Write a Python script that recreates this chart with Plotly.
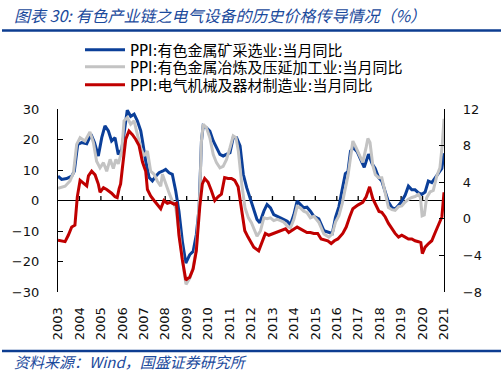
import plotly.graph_objects as go

# ---------------- data ----------------
years = list(range(2003, 2022))
year_labels = [str(y) for y in years]

left_ticks = [-30, -20, -10, 0, 10, 20, 30]
right_ticks = [-8, -4, 0, 4, 8, 12]

mining_name = "PPI:有色金属矿采选业:当月同比"
mining_t = [2003.00, 2003.17, 2003.40, 2003.64, 2003.76, 2003.92, 2004.10, 2004.34, 2004.54, 2004.70,
            2004.88, 2005.04, 2005.19, 2005.35, 2005.50, 2005.66, 2005.81, 2005.97, 2006.03, 2006.16,
            2006.23, 2006.39, 2006.55, 2006.70, 2006.86, 2006.94, 2007.09, 2007.25, 2007.40, 2007.56,
            2007.71, 2007.87, 2008.02, 2008.18, 2008.33, 2008.49, 2008.64, 2008.80, 2008.96, 2009.14,
            2009.30, 2009.45, 2009.58, 2009.69, 2009.77, 2009.92, 2010.08, 2010.24, 2010.39, 2010.55,
            2010.70, 2010.86, 2011.02, 2011.17, 2011.33, 2011.49, 2011.64, 2011.80, 2011.96, 2012.12,
            2012.28, 2012.41, 2012.60, 2012.75, 2012.91, 2013.06, 2013.22, 2013.38, 2013.53, 2013.69,
            2013.84, 2014.00, 2014.15, 2014.30, 2014.46, 2014.61, 2014.77, 2014.93, 2015.16, 2015.40,
            2015.63, 2015.79, 2015.94, 2016.10, 2016.25, 2016.40, 2016.52, 2016.64, 2016.78, 2016.95,
            2017.11, 2017.28, 2017.48, 2017.65, 2017.79, 2017.95, 2018.10, 2018.26, 2018.41, 2018.57,
            2018.72, 2018.88, 2019.03, 2019.19, 2019.34, 2019.50, 2019.65, 2019.81, 2019.96, 2020.12,
            2020.27, 2020.43, 2020.58, 2020.74, 2020.90, 2021.00]
mining_v = [8.0, 6.9, 7.2, 8.0, 9.6, 18.4, 19.0, 18.6, 21.7, 19.0,
            14.6, 20.6, 24.5, 22.8, 19.5, 20.6, 15.1, 16.8, 19.5, 27.2,
            29.6, 27.6, 28.3, 26.1, 22.8, 19.5, 12.9, 7.5, 6.4, 8.0,
            9.1, 9.6, 10.2, 9.1, 8.6, 3.1, -3.5, -13.4, -20.5, -17.8,
            -16.7, -11.2, -2.4, 19.5, 24.5, 23.9, 22.8, 19.5, 17.3, 15.1,
            14.6, 15.1, 15.7, 20.6, 20.6, 17.9, 8.6, 4.2, 0.9, -2.5,
            -6.2, -7.3, -3.5, -1.3, -2.4, -4.6, -5.2, -5.7, -6.2, -6.8,
            -7.9, -4.6, -0.2, -1.3, -2.4, -2.2, -3.5, -5.2, -6.0, -9.9,
            -10.4, -10.8, -5.5, -2.0, 3.5, 8.8, 9.5, 16.2, 17.3, 16.0,
            13.5, 10.9, 15.2, 12.0, 10.5, 7.5, 6.4, 2.5, -0.5, -2.3,
            -2.8, -1.6, -0.2, 1.8, 4.7, 3.5, 3.5, 2.5, 2.0, 2.8,
            6.4, 5.9, 7.5, 9.0, 10.5, 15.5]

smelting_name = "PPI:有色金属冶炼及压延加工业:当月同比"
smelting_t = [2003.00, 2003.33, 2003.56, 2003.72, 2003.87, 2004.03, 2004.26, 2004.49, 2004.65, 2004.80,
              2004.96, 2005.12, 2005.27, 2005.43, 2005.58, 2005.70, 2005.81, 2005.97, 2006.08, 2006.23,
              2006.39, 2006.55, 2006.70, 2006.86, 2007.01, 2007.17, 2007.32, 2007.48, 2007.63, 2007.79,
              2007.87, 2008.02, 2008.18, 2008.33, 2008.49, 2008.64, 2008.80, 2008.90, 2008.97, 2009.14,
              2009.30, 2009.45, 2009.61, 2009.69, 2009.77, 2009.92, 2010.08, 2010.24, 2010.39, 2010.55,
              2010.70, 2010.86, 2011.02, 2011.17, 2011.30, 2011.41, 2011.57, 2011.72, 2011.88, 2012.02,
              2012.15, 2012.28, 2012.44, 2012.60, 2012.75, 2012.91, 2013.06, 2013.22, 2013.38, 2013.53,
              2013.69, 2013.84, 2014.00, 2014.15, 2014.30, 2014.46, 2014.61, 2014.77, 2014.93, 2015.16,
              2015.40, 2015.63, 2015.79, 2015.94, 2016.10, 2016.25, 2016.40, 2016.52, 2016.64, 2016.75,
              2016.90, 2017.06, 2017.21, 2017.37, 2017.45, 2017.55, 2017.68, 2017.80, 2017.95, 2018.10,
              2018.26, 2018.41, 2018.57, 2018.72, 2018.88, 2019.03, 2019.19, 2019.34, 2019.50, 2019.65,
              2019.81, 2019.90, 2019.98, 2020.08, 2020.19, 2020.35, 2020.50, 2020.66, 2020.81, 2020.92,
              2021.00]
smelting_v = [4.0, 4.7, 6.4, 9.1, 18.4, 20.6, 19.5, 22.5, 19.0, 12.9,
              10.7, 12.4, 9.6, 13.5, 10.5, 13.5, 12.0, 16.0, 26.1, 27.2,
              25.0, 26.1, 21.7, 17.3, 14.6, 16.2, 9.6, 8.6, 6.4, 4.7,
              8.6, 5.3, 2.5, -0.2, -2.4, -10.0, -20.0, -24.5, -27.5, -25.5,
              -22.0, -15.6, 2.0, 19.5, 25.0, 23.9, 20.6, 15.1, 12.4, 10.7,
              11.2, 13.5, 17.3, 21.2, 20.6, 16.2, 5.3, -2.4, -5.7, -7.3,
              -9.5, -11.7, -10.0, -5.7, -6.0, -5.7, -6.6, -6.2, -6.6, -7.1,
              -8.4, -9.0, -6.2, -1.9, -2.4, -3.5, -4.0, -5.7, -5.2, -7.1,
              -11.0, -12.0, -11.0, -7.1, -5.0, -1.1, 4.0, 8.0, 14.0, 19.5,
              17.3, 14.6, 12.5, 17.5, 20.3, 19.0, 11.5, 8.5, 7.5, 7.5,
              2.5, -2.3, -3.0, -3.2, -2.0, -1.8, -0.5, 0.4, 1.0, 1.3,
              2.0, 1.0, -5.0, -4.7, 0.9, 2.8, 3.3, 8.0, 10.7, 18.4,
              26.8]

electric_name = "PPI:电气机械及器材制造业:当月同比"
electric_t = [2003.00, 2003.33, 2003.48, 2003.64, 2003.79, 2003.90, 2004.03, 2004.18, 2004.34, 2004.42,
              2004.57, 2004.73, 2004.88, 2004.96, 2005.12, 2005.27, 2005.50, 2005.66, 2005.76, 2005.85,
              2005.92, 2006.00, 2006.16, 2006.31, 2006.47, 2006.62, 2006.78, 2006.94, 2007.01, 2007.09,
              2007.17, 2007.32, 2007.48, 2007.63, 2007.79, 2007.94, 2008.10, 2008.25, 2008.41, 2008.52,
              2008.64, 2008.80, 2008.96, 2009.06, 2009.14, 2009.30, 2009.45, 2009.61, 2009.73, 2009.84,
              2010.00, 2010.15, 2010.31, 2010.46, 2010.62, 2010.77, 2010.93, 2011.09, 2011.24, 2011.40,
              2011.55, 2011.71, 2011.86, 2011.97, 2012.13, 2012.36, 2012.52, 2012.67, 2012.83, 2013.06,
              2013.22, 2013.37, 2013.61, 2013.76, 2014.00, 2014.15, 2014.30, 2014.46, 2014.61, 2014.77,
              2014.93, 2015.11, 2015.27, 2015.58, 2015.74, 2015.89, 2016.05, 2016.28, 2016.44, 2016.60,
              2016.75, 2016.98, 2017.21, 2017.37, 2017.53, 2017.68, 2017.84, 2017.97, 2018.10, 2018.26,
              2018.41, 2018.57, 2018.72, 2018.88, 2019.03, 2019.19, 2019.34, 2019.50, 2019.65, 2019.81,
              2019.92, 2019.99, 2020.12, 2020.28, 2020.43, 2020.59, 2020.74, 2020.90, 2021.00]
electric_v = [-2.35, -2.5, -1.8, -0.9, -0.7, 2.4, 4.2, 3.9, 3.6, 4.7,
              5.2, 4.8, 3.8, 2.9, 3.4, 3.2, 2.8, 2.4, 2.3, 3.3,
              3.8, 5.5, 8.7, 9.6, 9.2, 8.7, 8.0, 6.2, 5.6, 5.2,
              3.2, 2.5, 2.0, 1.6, 1.1, 2.0, 1.7, 1.8, 1.6, 1.7,
              -1.8, -4.5, -6.7, -6.5, -6.4, -5.5, -3.5, 1.3, 3.8, 4.4,
              4.0, 3.1, 2.0, 2.4, 2.7, 4.5, 4.4, 4.4, 4.2, 3.5,
              0.9, -1.3, -2.0, -2.5, -3.1, -3.5, -2.4, -1.6, -1.8, -1.6,
              -1.5, -1.3, -1.1, -1.5, -1.1, -0.9, -1.1, -1.3, -1.5, -1.5,
              -1.6, -1.6, -2.2, -2.4, -2.7, -2.4, -2.2, -1.6, -0.9, 0.2,
              1.1, 1.5, 1.8, 2.4, 3.5, 2.2, 1.4, 0.8, 0.7, 0.2,
              -0.5, -1.1, -1.6, -2.0, -1.8, -2.0, -2.2, -2.2, -2.4, -2.5,
              -2.6, -3.8, -3.1, -2.7, -2.4, -1.5, -0.7, 0.2, 2.9]

title_text = "图表 30: 有色产业链之电气设备的历史价格传导情况（%）"
source_text = "资料来源：Wind，国盛证券研究所"

# ---------------- layout helpers (pixel -> paper) ----------------
W, H = 504, 378
ML, MR, MT, MB = 58, 60, 109, 86
PW, PH = W - ML - MR, H - MT - MB
Y_RANGE = [-30, 30]
Y2_RANGE = [-8, 12]


def pxx(px):
    return (px - ML) / PW


def pxy(py):
    return (H - MB - py) / PH


BLUE = "#0B3F99"
GRAY = "#C3C3C3"
RED = "#C00000"
TXT_BLUE = "#1B4A9C"
RULE_BLUE = "#0D3D91"
TICK_FONT = dict(family="DejaVu Sans", size=13, color="#111111")
LEG_FONT = dict(family="DejaVu Sans, Noto Sans CJK SC", size=15, color="#000000")

fig = go.Figure()
fig.add_trace(go.Scatter(x=mining_t, y=mining_v, name=mining_name, mode="lines",
                         line=dict(color=BLUE, width=3), legend="legend"))
fig.add_trace(go.Scatter(x=smelting_t, y=smelting_v, name=smelting_name, mode="lines",
                         line=dict(color=GRAY, width=3), legend="legend2"))
fig.add_trace(go.Scatter(x=electric_t, y=electric_v, name=electric_name, mode="lines",
                         line=dict(color=RED, width=3), yaxis="y2", legend="legend3"))

legend_common = dict(x=pxx(80), xanchor="left", yanchor="middle", bgcolor="rgba(0,0,0,0)",
                     font=LEG_FONT, itemwidth=40, borderwidth=0, tracegroupgap=0)

fig.update_layout(
    width=W, height=H,
    margin=dict(l=ML, r=MR, t=MT, b=MB, pad=0, autoexpand=False),
    paper_bgcolor="white", plot_bgcolor="white",
    showlegend=True,
    legend=dict(y=pxy(50), **legend_common),
    legend2=dict(y=pxy(67), **legend_common),
    legend3=dict(y=pxy(85), **legend_common),
    xaxis=dict(range=[2003, 2021], tickvals=years, ticktext=year_labels, tickangle=-90,
               showline=False, showgrid=False, zeroline=False,
               ticks="outside", ticklen=9, tickcolor="rgba(0,0,0,0)",
               tickfont=TICK_FONT),
    yaxis=dict(range=Y_RANGE, tickvals=left_ticks, showline=True, linecolor="#000000", linewidth=1.3,
               ticks="inside", ticklen=5, tickwidth=1.3, tickcolor="#000000",
               showgrid=False, zeroline=True, zerolinecolor="#000000", zerolinewidth=1.3,
               tickfont=TICK_FONT, ticklabelstandoff=15),
    yaxis2=dict(range=Y2_RANGE, tickvals=right_ticks, overlaying="y", side="right", anchor="x",
                showline=True, linecolor="#000000", linewidth=1.3,
                ticks="inside", ticklen=5, tickwidth=1.3, tickcolor="#000000",
                showgrid=False, zeroline=False, tickfont=TICK_FONT, ticklabelstandoff=15),
)

# tick marks of the category axis that runs along the zero line (pointing up, ~4 px)
tick_h = 4.5 * (Y_RANGE[1] - Y_RANGE[0]) / PH
for yr in years[1:-1]:
    fig.add_shape(type="line", xref="x", yref="y", x0=yr, x1=yr, y0=0, y1=tick_h,
                  line=dict(color="#000000", width=1.3), layer="below")

fig.add_annotation(text=title_text, xref="paper", yref="paper", x=pxx(12), y=pxy(15),
                   xanchor="left", yanchor="middle", showarrow=False,
                   font=dict(family="Noto Sans CJK SC", size=16, color=TXT_BLUE, style="italic"))
fig.add_annotation(text=source_text, xref="paper", yref="paper", x=pxx(12), y=pxy(361),
                   xanchor="left", yanchor="middle", showarrow=False,
                   font=dict(family="Noto Sans CJK SC", size=15, color=TXT_BLUE, style="italic"))

fig.add_shape(type="line", xref="paper", yref="paper", x0=pxx(2), x1=pxx(501), y0=pxy(30.5), y1=pxy(30.5),
              line=dict(color=RULE_BLUE, width=2.5))
fig.add_shape(type="line", xref="paper", yref="paper", x0=pxx(2), x1=pxx(501), y0=pxy(351), y1=pxy(351),
              line=dict(color=RULE_BLUE, width=2.5))

fig.write_html("out.html", config={"displayModeBar": False},
               post_script="document.body.style.margin='0';document.body.style.padding='0';")
